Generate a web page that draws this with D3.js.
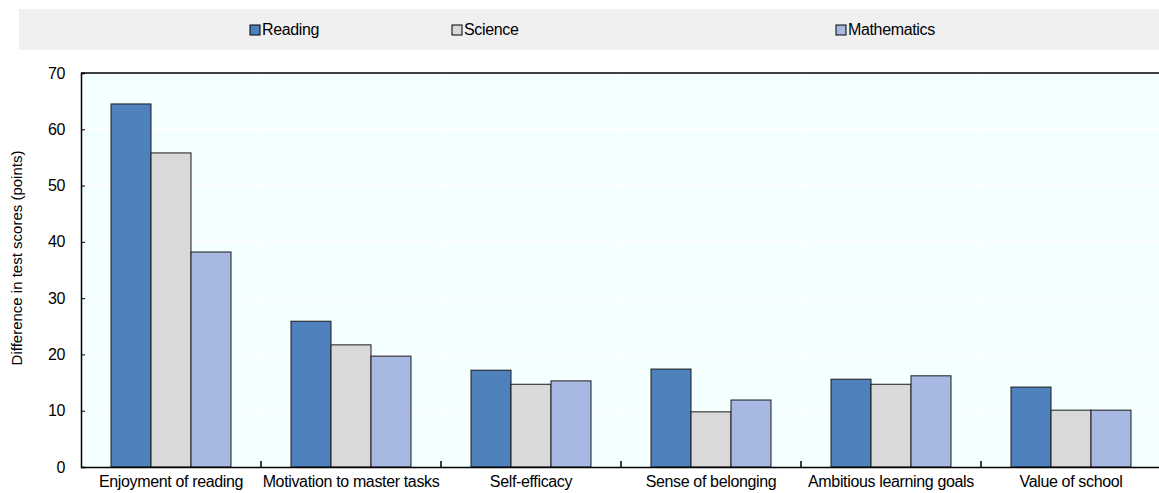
<!DOCTYPE html>
<html>
<head>
<meta charset="utf-8">
<script src="https://cdn.jsdelivr.net/npm/d3@7"></script>
<style>
  body { margin: 0; background: #fff; }
  text { font-family: "Liberation Sans Narrow", "Arial Narrow", "Liberation Sans", sans-serif; fill: #000; letter-spacing: -0.35px; }
</style>
</head>
<body>
<svg width="1159" height="493"></svg>
<script>
var categories = ["Enjoyment of reading", "Motivation to master tasks", "Self-efficacy",
                  "Sense of belonging", "Ambitious learning goals", "Value of school"];
var seriesNames = ["Reading", "Science", "Mathematics"];
var reading = [64.5, 25.9, 17.2, 17.4, 15.6, 14.2];
var science = [55.8, 21.7, 14.7, 9.8, 14.7, 10.1];
var mathematics = [38.2, 19.7, 15.3, 11.9, 16.2, 10.1];
var yTicks = [0, 10, 20, 30, 40, 50, 60, 70];
var colors = ["#4f81bd", "#d9d9d9", "#a7b9e3"];

var svg = d3.select("svg"),
    margin = {top: 73, right: -2, bottom: 26, left: 81},
    width = svg.attr("width") - margin.left - margin.right,
    height = svg.attr("height") - margin.top - margin.bottom;

var series = [reading, science, mathematics];
var data = categories.map(function(c, i) {
  return {cat: c, values: series.map(function(s, j) { return {key: seriesNames[j], value: s[i]}; })};
});

// legend band
svg.append("rect").attr("x", 19).attr("y", 9).attr("width", 1140).attr("height", 41).attr("fill", "#f0f0f0");
var legendX = [250, 452, 836];
var lg = svg.selectAll(".legend").data(seriesNames).enter().append("g")
    .attr("class", "legend")
    .attr("transform", function(d, i) { return "translate(" + legendX[i] + ",24)"; });
lg.append("rect").attr("width", 10).attr("height", 10).attr("y", 1)
    .attr("fill", function(d, i) { return colors[i]; }).attr("stroke", "#000").attr("stroke-width", 1);
lg.append("text").attr("x", 12).attr("y", 11).style("font-size", "16px").text(function(d) { return d; });

var g = svg.append("g").attr("transform", "translate(" + margin.left + "," + margin.top + ")");

var x0 = d3.scaleBand().domain(categories).range([0, width]).paddingInner(0).paddingOuter(0);
var x1 = d3.scaleBand().domain(seriesNames).range([30, x0.bandwidth() - 30]);
var y = d3.scaleLinear().domain([0, 70]).range([height, 0]);

g.append("rect").attr("width", width).attr("height", height).attr("fill", "#f4ffff");

// gridlines
g.append("g").selectAll("line").data(yTicks.slice(1, -1)).enter().append("line")
    .attr("x1", 0).attr("x2", width)
    .attr("y1", function(d) { return y(d); }).attr("y2", function(d) { return y(d); })
    .attr("stroke", "#fff").attr("stroke-width", 1.5);
g.append("g").selectAll("line").data(categories.slice(1)).enter().append("line")
    .attr("x1", function(d) { return x0(d); }).attr("x2", function(d) { return x0(d); })
    .attr("y1", 0).attr("y2", height)
    .attr("stroke", "#fff").attr("stroke-width", 1.5);

// bars
var grp = g.selectAll(".cat").data(data).enter().append("g")
    .attr("class", "cat")
    .attr("transform", function(d) { return "translate(" + x0(d.cat) + ",0)"; });
grp.selectAll("rect").data(function(d) { return d.values; }).enter().append("rect")
    .attr("x", function(d) { return x1(d.key); })
    .attr("width", x1.bandwidth())
    .attr("y", function(d) { return y(d.value); })
    .attr("height", function(d) { return height - y(d.value); })
    .attr("fill", function(d, i) { return colors[i]; })
    .attr("stroke", "#1a1a1a").attr("stroke-width", 1);

// top border
g.append("line").attr("x1", 0).attr("x2", width).attr("y1", 0).attr("y2", 0)
    .attr("stroke", "#000").attr("stroke-width", 1.5);

// y axis
var yAxis = g.append("g")
    .call(d3.axisLeft(y).tickValues(yTicks).tickSize(-4).tickPadding(16));
yAxis.select(".domain").attr("stroke-width", 1.5);
yAxis.selectAll("text").style("font-size", "16px");

// x axis
var xAxis = g.append("g")
    .attr("transform", "translate(0," + height + ")")
    .call(d3.axisBottom(x0).tickSize(0).tickPadding(9));
xAxis.select(".domain").attr("stroke-width", 1.5);
xAxis.selectAll("text").style("font-size", "16px");
g.append("g").selectAll("line").data(categories.slice(1)).enter().append("line")
    .attr("x1", function(d) { return x0(d); }).attr("x2", function(d) { return x0(d); })
    .attr("y1", height).attr("y2", height - 6)
    .attr("stroke", "#000").attr("stroke-width", 1.5);

// y label
svg.append("text")
    .attr("transform", "translate(22,258) rotate(-90)")
    .attr("text-anchor", "middle")
    .style("font-size", "15px")
    .style("letter-spacing", "0px")
    .text("Difference in test scores (points)");
</script>
</body>
</html>
